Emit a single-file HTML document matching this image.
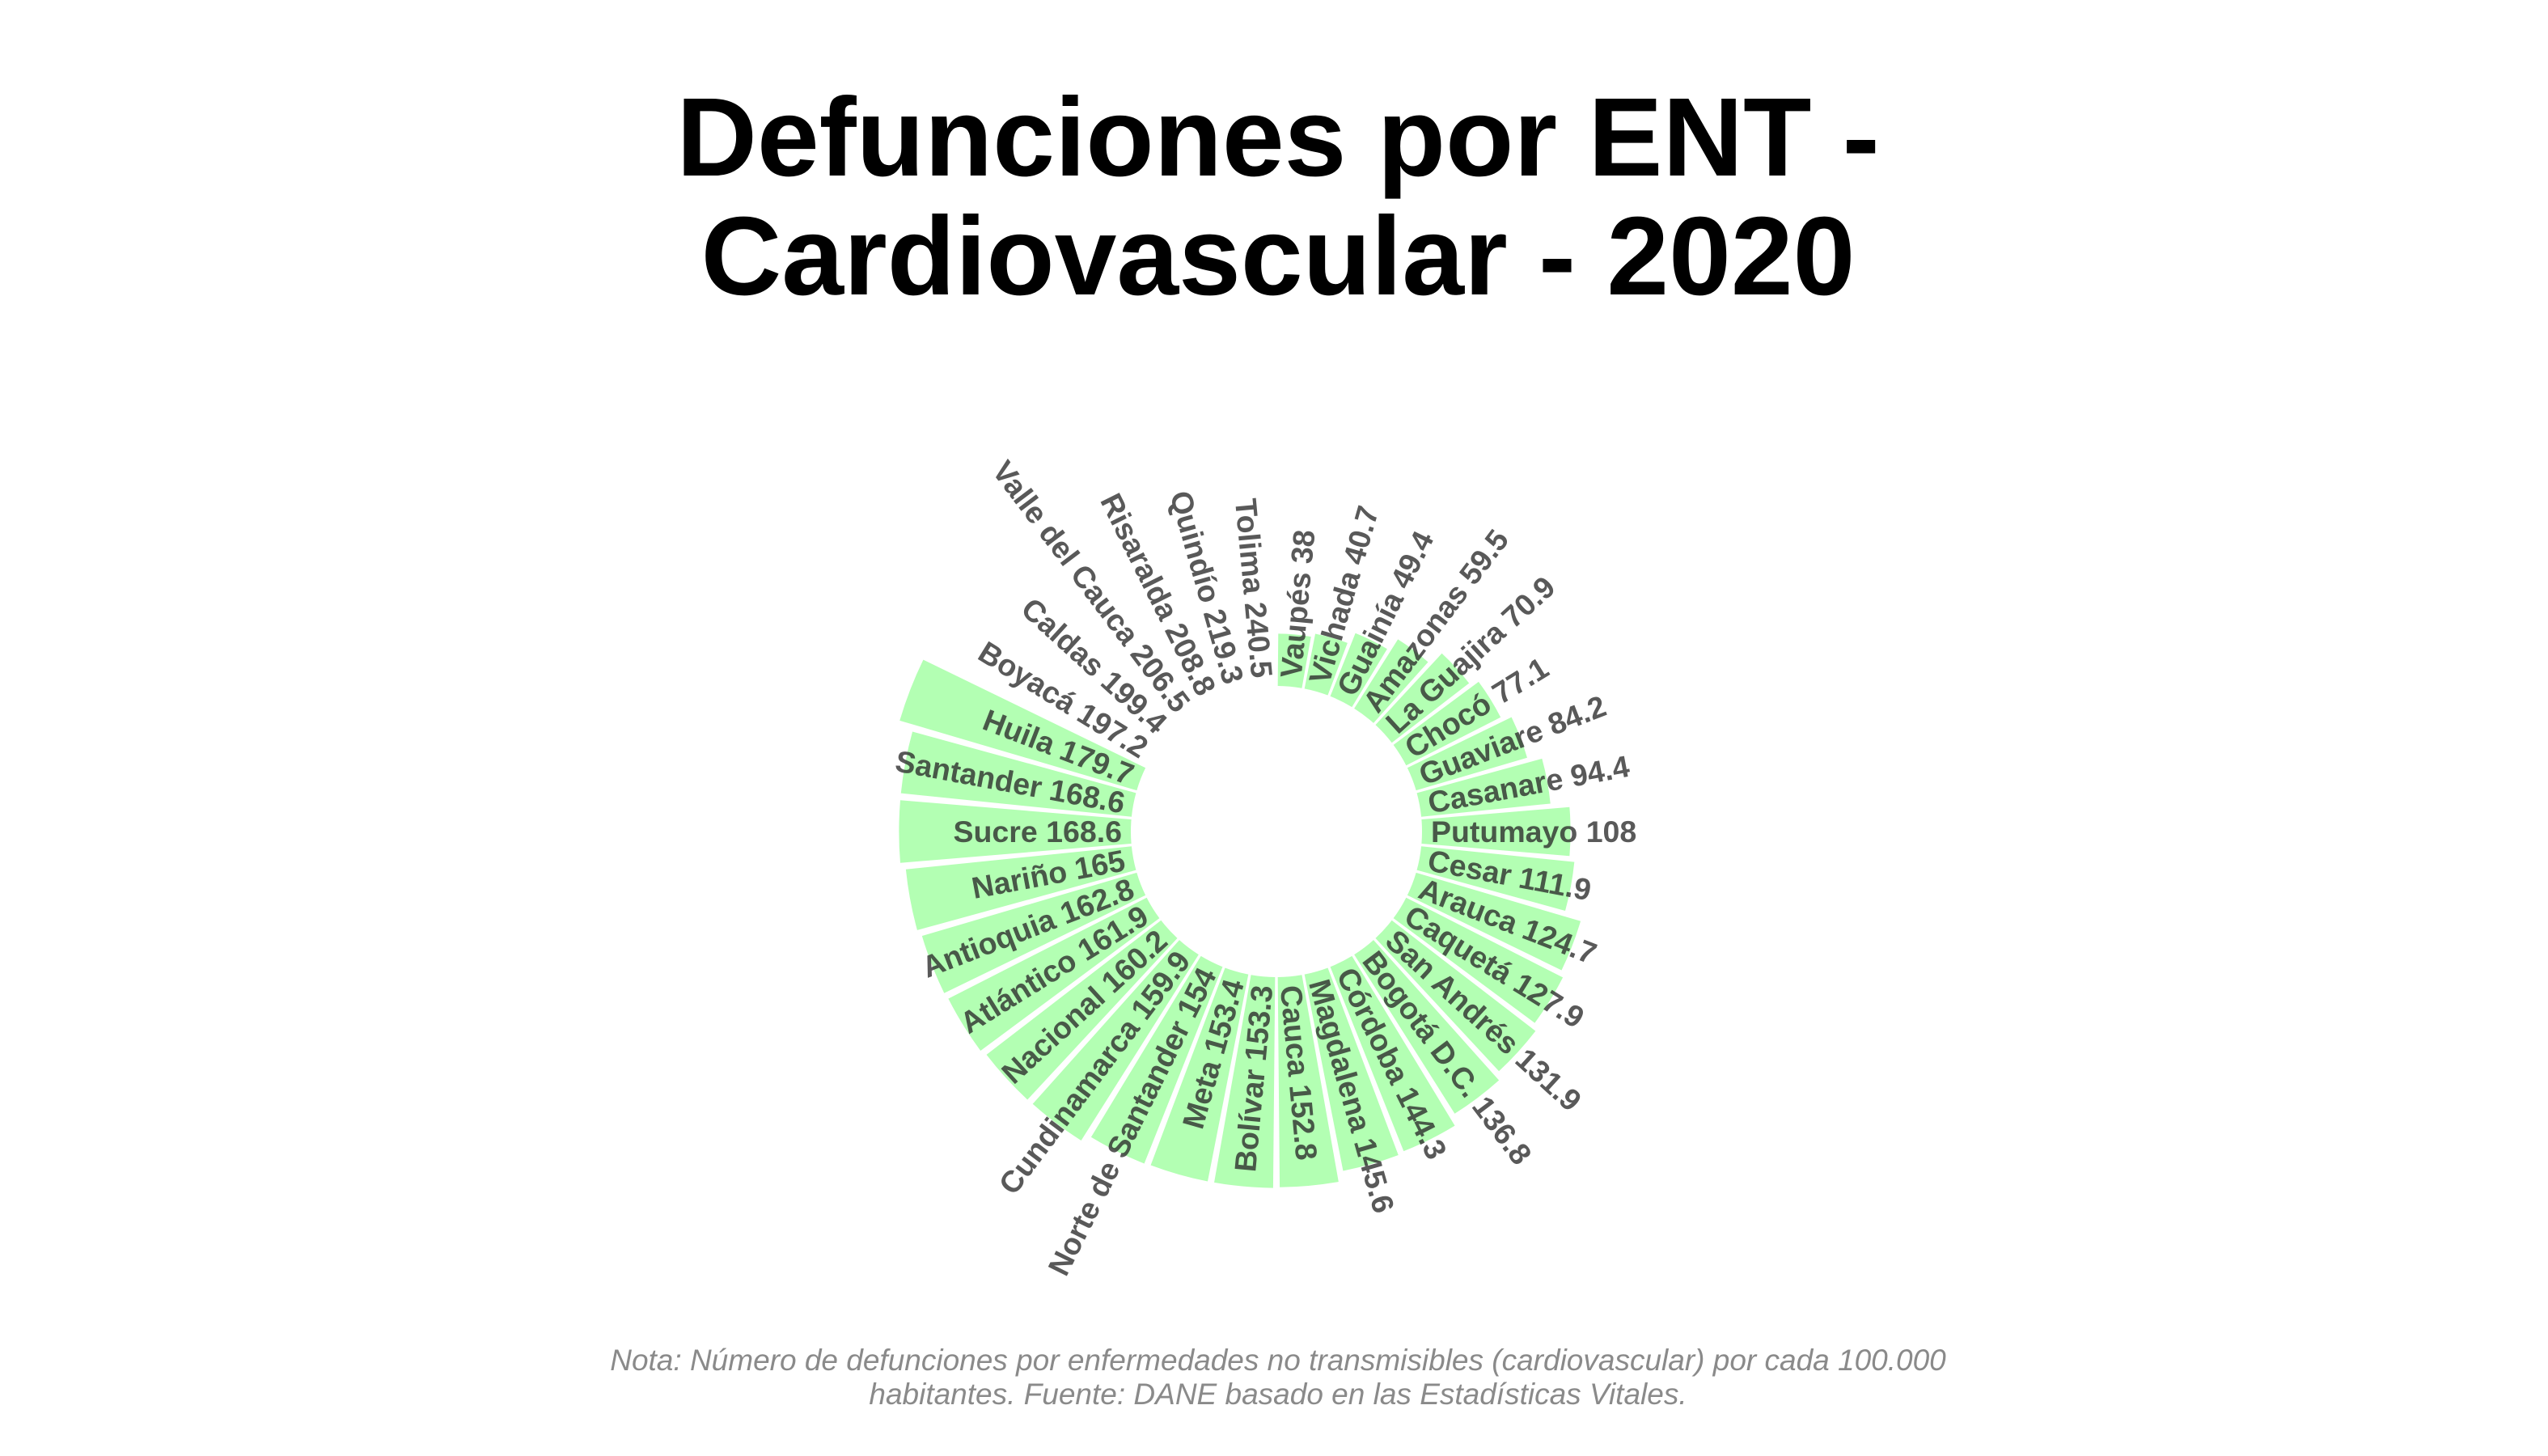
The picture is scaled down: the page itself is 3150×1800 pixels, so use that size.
<!DOCTYPE html>
<html><head><meta charset="utf-8"><style>
html,body{margin:0;padding:0;background:#fff;}
svg{display:block;font-family:"Liberation Sans",Arial,sans-serif;}
</style></head><body>
<svg id="chart" width="3150" height="1800" viewBox="0 0 3150 1800" xmlns="http://www.w3.org/2000/svg">
<rect width="3150" height="1800" fill="#fff"/>
<g font-weight="bold" font-size="138" text-anchor="middle" fill="#000">
<text x="1580" y="217">Defunciones por ENT -</text>
<text x="1580" y="364">Cardiovascular - 2020</text>
</g>
<g id="bars"></g>
<g id="labels"></g>
<g font-style="italic" font-size="37" fill="#8a8a8a" text-anchor="middle">
<text x="1580" y="1694">Nota: Número de defunciones por enfermedades no transmisibles (cardiovascular) por cada 100.000</text>
<text x="1580" y="1736">habitantes. Fuente: DANE basado en las Estadísticas Vitales.</text>
</g>
</svg>
<script>
const categories = ["Vaupés","Vichada","Guainía","Amazonas","La Guajira","Chocó","Guaviare","Casanare","Putumayo","Cesar","Arauca","Caquetá","San Andrés","Bogotá D.C.","Córdoba","Magdalena","Cauca","Bolívar","Meta","Norte de Santander","Cundinamarca","Nacional","Atlántico","Antioquia","Nariño","Sucre","Santander","Huila","Boyacá","Caldas","Valle del Cauca","Risaralda","Quindío","Tolima"];
const values = [38,40.7,49.4,59.5,70.9,77.1,84.2,94.4,108,111.9,124.7,127.9,131.9,136.8,144.3,145.6,152.8,153.3,153.4,154,159.9,160.2,161.9,162.8,165,168.6,168.6,179.7,197.2,199.4,206.5,208.8,219.3,240.5];
const valueLabels = ["38","40.7","49.4","59.5","70.9","77.1","84.2","94.4","108","111.9","124.7","127.9","131.9","136.8","144.3","145.6","152.8","153.3","153.4","154","159.9","160.2","161.9","162.8","165","168.6","168.6","179.7","197.2","199.4","206.5","208.8","219.3","240.5"];
const yMax = 190;

const cx = 1578, cy = 1028, r0 = 180, k = 1.70, labelR = 191;
const n = categories.length;
const step = 360 / n;
function rScale(v){ return r0 + k * v; }
function angle(i){ return (i + 0.5) * step; }
function pt(r, deg){ const a = deg * Math.PI / 180; return [cx + r * Math.sin(a), cy - r * Math.cos(a)]; }
const NS = "http://www.w3.org/2000/svg";
const gb = document.getElementById("bars"), gl = document.getElementById("labels");
for (let i = 0; i < n; i++) {
  const v = values[i], c = angle(i), hw = step * 0.45;
  if (v <= yMax) {
    const a1 = c - hw, a2 = c + hw, ri = rScale(0), ro = rScale(v);
    const p1 = pt(ri, a1), p2 = pt(ro, a1), p3 = pt(ro, a2), p4 = pt(ri, a2);
    const d = `M${p1[0]},${p1[1]} L${p2[0]},${p2[1]} A${ro},${ro} 0 0 1 ${p3[0]},${p3[1]} L${p4[0]},${p4[1]} A${ri},${ri} 0 0 0 ${p1[0]},${p1[1]} Z`;
    const path = document.createElementNS(NS, "path");
    path.setAttribute("d", d);
    path.setAttribute("fill", "#b3ffb3");
    
    
    gb.appendChild(path);
  }
  const p = pt(labelR, c);
  const t = document.createElementNS(NS, "text");
  let rot, anchor;
  if (c < 180) { rot = c - 90; anchor = "start"; } else { rot = c + 90; anchor = "end"; }
  t.setAttribute("x", p[0]); t.setAttribute("y", p[1]);
  t.setAttribute("transform", `rotate(${rot} ${p[0]} ${p[1]})`);
  t.setAttribute("text-anchor", anchor);
  t.setAttribute("dominant-baseline", "central");
  t.setAttribute("font-size", "37.5");
  t.setAttribute("font-weight", "bold");
  t.setAttribute("fill", "#2a2a2a");
  t.setAttribute("fill-opacity", "0.78");
  t.textContent = categories[i] + " " + valueLabels[i];
  
  
  gl.appendChild(t);
}
</script>
</body></html>
